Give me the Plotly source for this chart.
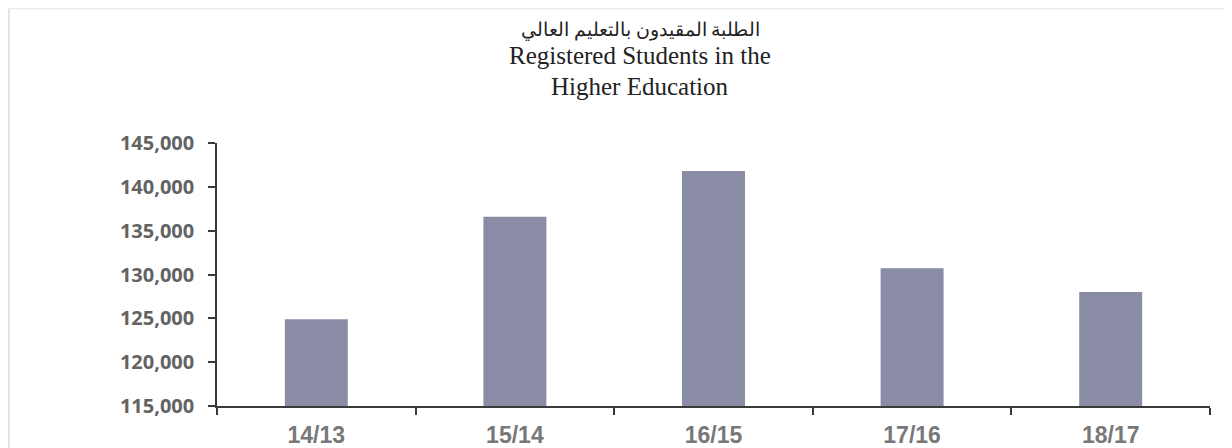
import plotly.graph_objects as go

categories = ["14/13", "15/14", "16/15", "17/16", "18/17"]
students = [124900, 136600, 141800, 130700, 128000]
title_ar = "الطلبة المقيدون بالتعليم العالي"
title_en1 = "Registered Students in the"
title_en2 = "Higher Education"
y_ticks = [115000, 120000, 125000, 130000, 135000, 140000, 145000]

# the page body adds an 8px margin, so the figure is 8px smaller than the window
W, H = 1224, 440
L, R, T, B = 209, 22, 135, 42
pw, ph = W - L - R, H - T - B


def px(x):
    return (x - L) / pw


def py(y):
    return (H - B - y) / ph


fig = go.Figure(go.Bar(x=categories, y=students, marker_color="#8A8BA5",
                       marker_line_width=0, width=0.317))

fig.update_layout(
    width=W, height=H,
    margin=dict(l=L, r=R, t=T, b=B),
    plot_bgcolor="white", paper_bgcolor="white",
    showlegend=False,
)
fig.update_xaxes(
    type="category", automargin=False, showgrid=False, showline=True,
    linecolor="#3a3a3a", linewidth=1.5,
    ticks="outside", tickson="boundaries", ticklen=7, tickwidth=1.5, tickcolor="#3a3a3a",
    tickfont=dict(family="Liberation Sans", size=23, color="#787878", weight="bold"),
    ticklabelstandoff=8,
)
fig.update_yaxes(
    range=[115000, 145000], tickvals=y_ticks, tickformat=",", automargin=False,
    showgrid=False, zeroline=False, showline=True, linecolor="#3a3a3a", linewidth=1.5,
    ticks="outside", ticklen=7, tickwidth=1.5, tickcolor="#3a3a3a",
    tickfont=dict(family="Open Sans", size=20, color="#636363", weight="bold"),
    ticklabelstandoff=10,
)

tx = px(632)
for text, ycen, size in [(title_ar, 22, 19), (title_en1, 48, 25), (title_en2, 78, 25)]:
    fig.add_annotation(text=text, xref="paper", yref="paper", x=tx, y=py(ycen),
                       xanchor="center", yanchor="middle", showarrow=False,
                       font=dict(family="Liberation Serif, DejaVu Serif", size=size, color="#222222"))

# light outer frame along the top and left edges
fig.add_shape(type="line", xref="paper", yref="paper", x0=px(0.8), x1=px(0.8), y0=py(0), y1=py(H + 5),
              line=dict(color="#e2e2e2", width=2))
fig.add_shape(type="line", xref="paper", yref="paper", x0=px(0), x1=px(W + 5), y0=py(0.5), y1=py(0.5),
              line=dict(color="#ebebeb", width=1.5))

fig.write_html("out.html")
